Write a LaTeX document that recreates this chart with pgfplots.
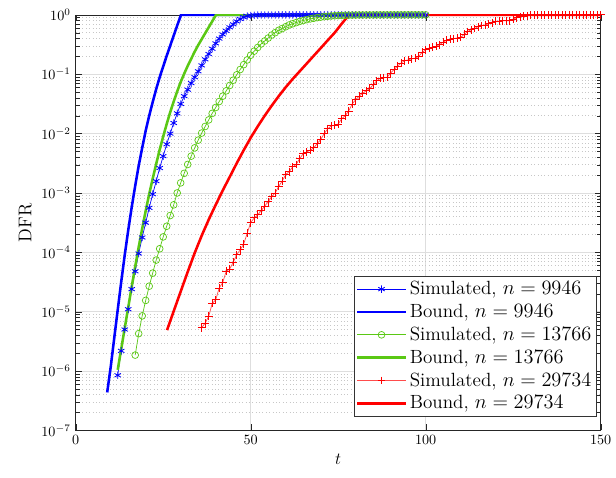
\documentclass[border=0pt]{standalone}
\usepackage{pgfplots}
\pgfplotsset{compat=1.18}
\definecolor{mgreen}{RGB}{90,200,20}
\definecolor{gridmaj}{gray}{0.87}
\definecolor{gridmin}{gray}{0.78}
\begin{document}
\begin{tikzpicture}
\begin{axis}[
  name=ax,
  scale only axis,
  width=371pt, height=293.7pt,
  xmin=0, xmax=150,
  ymode=log, ymin=1e-7, ymax=1,
  xtick={0,50,100,150},
  ytick={1e-7,1e-6,1e-5,1e-4,1e-3,1e-2,1e-1,1},
  grid=both,
  major grid style={gridmaj, line width=0.5pt},
  minor grid style={gridmin, dotted, line width=0.35pt},
  minor x tick num=0,
  axis line style={black!85, line width=0.5pt},
  tick style={black!85},
  tick align=inside,
  xlabel={$t$}, ylabel={DFR},
  label style={font=\fontsize{13}{15}\selectfont},
  legend cell align=left,
  legend style={at={(0.9925,0.034)}, anchor=south east,
    font=\fontsize{13.5}{15}\selectfont, draw=black!80, line width=0.5pt,
    row sep=1.2pt, inner sep=1.5pt},
  legend image code/.code={\draw[mark repeat=2,mark phase=2,#1] plot coordinates {(0cm,0cm) (0.6cm,0cm) (1.2cm,0cm)};},
]
% Simulated n=9946
\addplot[blue, line width=0.5pt, mark=asterisk, mark size=2.6pt, mark options={solid, line width=0.6pt}] coordinates {
(12,8.5e-7)(13,2.19e-6)(14,5.01e-6)(15,1.10e-5)(16,2.40e-5)(17,4.79e-5)(18,9.55e-5)(19,1.78e-4)
(20,3.16e-4)(21,5.62e-4)(22,9.55e-4)(23,1.58e-3)(24,2.63e-3)(25,4.17e-3)(26,6.61e-3)(27,1.0e-2)
(28,1.51e-2)(29,2.19e-2)(30,3.16e-2)(31,4.27e-2)(32,5.50e-2)(33,7.08e-2)(34,8.91e-2)(35,0.112)
(36,0.141)(37,0.178)(38,0.219)(39,0.269)(40,0.331)(41,0.398)(42,0.468)(43,0.537)(44,0.617)
(45,0.692)(46,0.776)(47,0.851)(48,0.912)(49,0.955)(50,0.975)(51,0.985)(52,0.99)(53,0.993)
(54,0.995)(55,0.996)(56,0.997)(57,0.997)(58,0.998)(59,0.998)(60,0.998)(61,0.999)(62,0.999)
(63,0.999)(64,0.999)(65,0.999)(66,0.999)(67,0.999)(68,0.999)(69,0.999)(70,0.999)(71,0.999)
(72,0.999)(73,0.999)(74,0.999)(75,0.999)(76,0.999)(77,0.999)(78,0.999)(79,0.999)(80,0.999)
(81,1)(82,1)(83,1)(84,1)(85,1)(86,1)(87,1)(88,1)(89,1)(90,1)(91,1)(92,1)(93,1)(94,1)(95,1)
(96,1)(97,1)(98,1)(99,1)(100,1)};
\addlegendentry{Simulated, $n=9946$}
% Bound n=9946
\addplot[blue, line width=1.8pt] coordinates {
(9,4.37e-7)(10,1.17e-6)(11,3.55e-6)(12,1.07e-5)(13,3.16e-5)(14,8.91e-5)(15,2.34e-4)(16,5.75e-4)
(17,1.32e-3)(18,2.88e-3)(19,5.75e-3)(20,1.12e-2)(21,2.0e-2)(22,3.39e-2)(23,5.62e-2)(24,8.91e-2)
(25,0.135)(26,0.204)(27,0.302)(28,0.447)(29,0.661)(30.1,1)(100,1)};
\addlegendentry{Bound, $n=9946$}
% Simulated n=13766
\addplot[mgreen, line width=0.5pt, mark=o, mark size=2.4pt, mark options={solid, line width=0.5pt}] coordinates {
(17,1.86e-6)(18,4.27e-6)(19,8.51e-6)(20,1.55e-5)(21,2.69e-5)(22,4.47e-5)(23,7.41e-5)(24,1.15e-4)
(25,1.82e-4)(26,2.75e-4)(27,4.17e-4)(28,6.31e-4)(29,1.0e-3)(30,1.48e-3)(31,2.14e-3)(32,3.02e-3)
(33,4.17e-3)(34,5.75e-3)(35,7.76e-3)(36,1.02e-2)(37,1.32e-2)(38,1.70e-2)(39,2.19e-2)(40,2.75e-2)
(41,3.47e-2)(42,4.27e-2)(43,5.25e-2)(44,6.46e-2)(45,7.94e-2)(46,9.77e-2)(47,0.120)(48,0.145)
(49,0.174)(50,0.209)(51,0.245)(52,0.282)(53,0.324)(54,0.363)(55,0.407)(56,0.457)(57,0.501)
(58,0.550)(59,0.589)(60,0.631)(61,0.676)(62,0.708)(63,0.741)(64,0.776)(65,0.803)(66,0.832)
(67,0.855)(68,0.877)(69,0.898)(70,0.916)(71,0.933)(72,0.946)(73,0.957)(74,0.966)(75,0.973)
(76,0.979)(77,0.984)(78,0.989)(79,0.991)(80,0.993)(81,0.995)(82,0.996)(83,0.996)(84,0.997)
(85,0.997)(86,0.998)(87,0.998)(88,0.998)(89,0.999)(90,0.999)(91,0.999)(92,0.999)(93,0.999)
(94,0.999)(95,1)(96,1)(97,1)(98,1)(99,1)(100,1)};
\addlegendentry{Simulated, $n=13766$}
% Bound n=13766
\addplot[mgreen, line width=1.8pt] coordinates {
(12,1.05e-6)(13,2.34e-6)(14,5.25e-6)(15,1.17e-5)(16,2.63e-5)(17,5.75e-5)(18,1.23e-4)(19,2.51e-4)
(20,5.01e-4)(21,9.55e-4)(22,1.74e-3)(23,3.09e-3)(24,5.37e-3)(25,8.91e-3)(26,1.45e-2)(27,2.29e-2)
(28,3.47e-2)(29,5.13e-2)(30,7.41e-2)(31,0.102)(32,0.138)(33,0.182)(34,0.240)(35,0.309)
(36,0.389)(37,0.490)(38,0.617)(39,0.776)(40.1,1)(100,1)};
\addlegendentry{Bound, $n=13766$}
% Simulated n=29734
\addplot[red!70, line width=0.5pt, mark=+, mark size=2.8pt, mark options={solid, red, line width=0.6pt}] coordinates {
(36,5.37e-6)(37,6.46e-6)(38,8.32e-6)(39,1.38e-5)(40,1.58e-5)(41,2.51e-5)(42,3.09e-5)(43,4.79e-5)
(44,5.25e-5)(45,6.76e-5)(46,9.12e-5)(47,1.10e-4)(48,1.38e-4)(49,2.09e-4)(50,3.16e-4)(51,3.80e-4)
(52,4.27e-4)(53,5.01e-4)(54,6.03e-4)(55,7.08e-4)(56,8.71e-4)(57,1.0e-3)(58,1.29e-3)(59,1.58e-3)
(60,2.04e-3)(61,2.29e-3)(62,2.75e-3)(63,3.02e-3)(64,3.80e-3)(65,4.57e-3)(66,4.90e-3)(67,5.25e-3)
(68,5.75e-3)(69,6.76e-3)(70,7.94e-3)(71,1.0e-2)(72,1.20e-2)(73,1.35e-2)(74,1.38e-2)(75,1.45e-2)
(76,1.78e-2)(77,2.0e-2)(78,2.40e-2)(79,3.16e-2)(80,3.72e-2)(81,4.27e-2)(82,4.79e-2)(83,5.25e-2)
(84,5.75e-2)(85,6.61e-2)(86,7.76e-2)(87,8.51e-2)(88,8.71e-2)(89,8.91e-2)(90,0.105)(91,0.120)
(92,0.138)(93,0.155)(94,0.170)(95,0.174)(96,0.182)(97,0.186)(98,0.200)(99,0.234)(100,0.257)
(101,0.275)(102,0.288)(103,0.295)(104,0.316)(105,0.347)(106,0.372)(107,0.389)(108,0.398)
(109,0.407)(110,0.417)(111,0.468)(112,0.525)(113,0.562)(114,0.589)(115,0.631)(116,0.661)
(117,0.676)(118,0.708)(119,0.741)(120,0.776)(121,0.785)(122,0.794)(123,0.794)(124,0.794)
(125,0.851)(126,0.891)(127,0.933)(128,0.955)(129,0.966)(130,0.977)(131,0.982)(132,0.985)
(133,0.988)(134,0.99)(135,0.992)(136,0.993)(137,0.994)(138,0.995)(139,0.996)(140,0.996)
(141,0.997)(142,0.997)(143,0.998)(144,0.998)(145,0.998)(146,0.999)(147,0.999)(148,0.999)
(149,0.999)(150,1)};
\addlegendentry{Simulated, $n=29734$}
% Bound n=29734
\addplot[red, line width=1.8pt] coordinates {
(26.1,4.9e-6)(28,1.02e-5)(30,2.19e-5)(32,4.68e-5)(34,9.77e-5)(36,1.91e-4)(38,3.55e-4)(40,6.31e-4)
(42,1.10e-3)(44,1.86e-3)(46,3.16e-3)(48,5.25e-3)(50,8.51e-3)(52,1.32e-2)(54,2.0e-2)(56,2.95e-2)
(58,4.27e-2)(60,6.03e-2)(62,8.32e-2)(64,0.112)(66,0.151)(68,0.204)(70,0.275)(72,0.372)
(74,0.501)(76,0.708)(78.1,1)(150,1)};
\addlegendentry{Bound, $n=29734$}
\end{axis}
\path ([xshift=-53.5pt]ax.south west) ([yshift=-33pt]ax.south west)
      ([yshift=10.5pt]ax.north east) ([xshift=9pt]ax.north east);
\end{tikzpicture}
\end{document}
